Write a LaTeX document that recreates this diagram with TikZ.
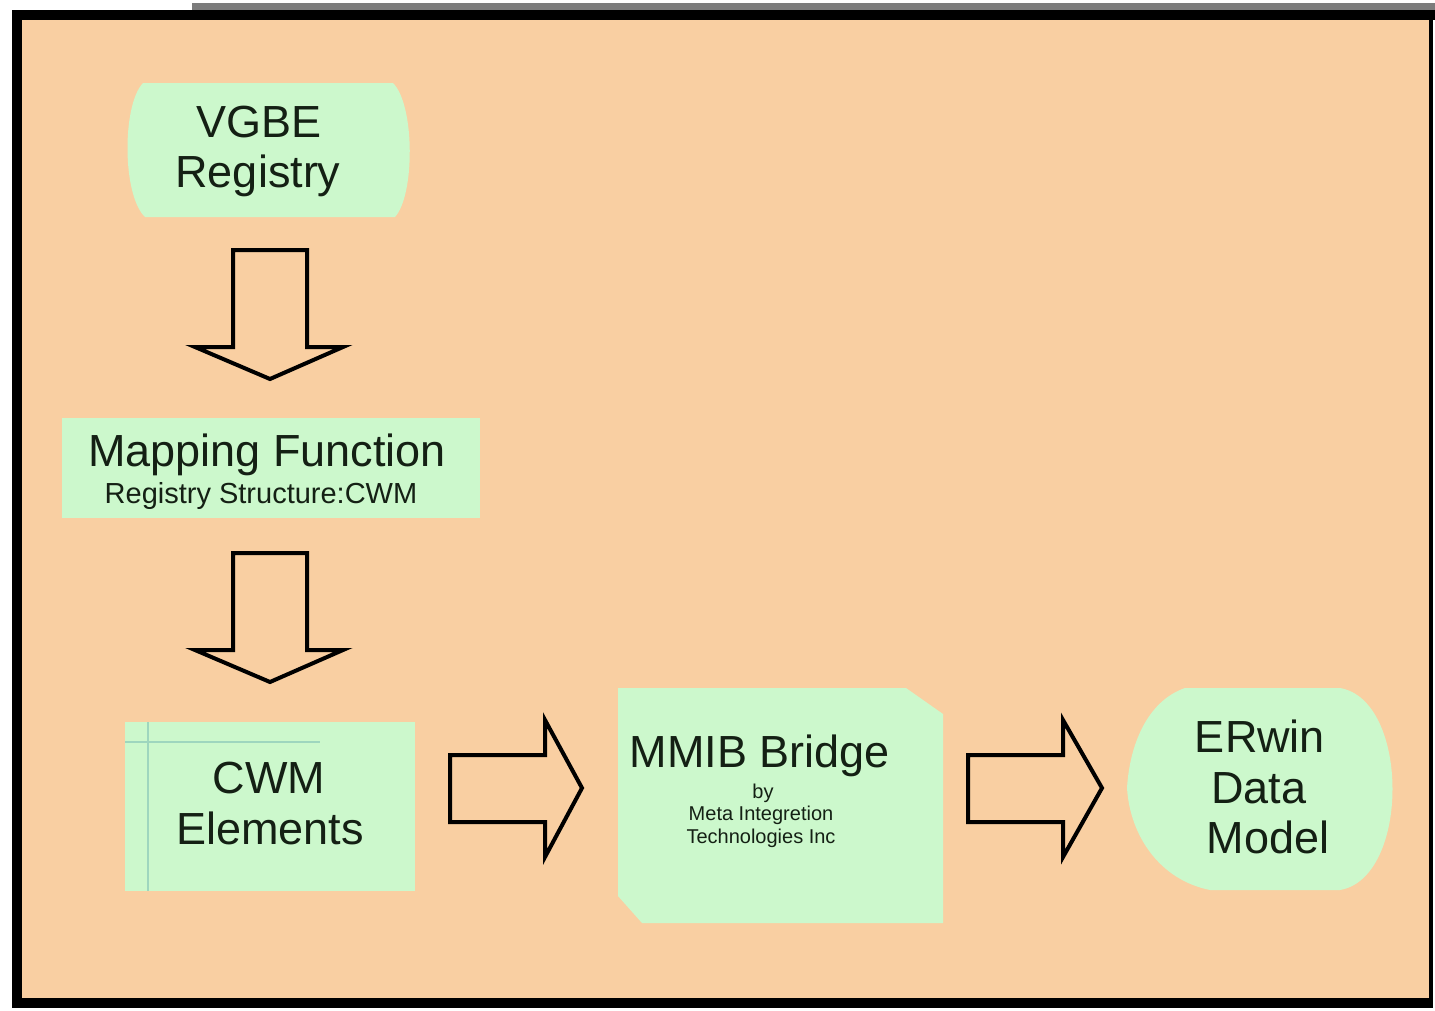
\documentclass[tikz,border=0pt]{standalone}
\usepackage{fontspec}
\setmainfont{Liberation Sans}
\definecolor{bgorange}{HTML}{F9CFA2}
\definecolor{boxgreen}{HTML}{CCF8CC}
\definecolor{txt}{HTML}{142014}
\definecolor{faintline}{HTML}{9ED6BE}
\definecolor{topgray}{HTML}{7C7C7C}
\begin{document}
\begin{tikzpicture}[x=1pt,y=-1pt,
  shapefill/.style={fill=boxgreen,draw=none},
  blockarrow/.style={draw=black,line width=4pt,line join=miter,fill=bgorange},
  bigtext/.style={anchor=base,text=txt,inner sep=0pt,font=\fontsize{45}{51}\selectfont},
  midtext/.style={anchor=base,text=txt,inner sep=0pt,font=\fontsize{29}{34}\selectfont},
  smalltext/.style={anchor=base,text=txt,inner sep=0pt,font=\fontsize{20}{22}\selectfont}]
\useasboundingbox (0,0) rectangle (1435,1010);
\fill[white] (0,0) rectangle (1435,1010);
% frame
\fill[topgray] (192,3) rectangle (1435,10);
\fill[bgorange] (17,17) rectangle (1431,1003);
\fill[black] (12,10) rectangle (1435,20);
\fill[black] (12,10) rectangle (22,1008);
\fill[black] (12,998) rectangle (1433,1008);
\fill[black] (1429,10) rectangle (1433,1008);
% VGBE Registry shape
\path[shapefill] (143,83) -- (393,83) .. controls (415,105) and (415,195) .. (395,217)
  -- (145,217) .. controls (122,195) and (122,105) .. (143,83) -- cycle;
% Mapping function box
\node[shapefill,rectangle,minimum width=418pt,minimum height=100pt,inner sep=0pt] (mapbox) at (271,468) {};
% CWM elements box
\node[shapefill,rectangle,minimum width=290pt,minimum height=169pt,inner sep=0pt] (cwmbox) at (270,806.5) {};
\draw[faintline,line width=1.2pt] (148,722) -- (148,891);
\draw[faintline,line width=1.2pt] (125,742) -- (320,742);
% MMIB bridge shape
\path[shapefill] (618,688) -- (906,688) -- (943,714) -- (943,923) -- (642,923) -- (618,896) -- cycle;
% ERwin shape
\path[shapefill] (1127,788) .. controls (1130,740) and (1150,700) .. (1185,688) -- (1340,688)
  .. controls (1410,700) and (1410,878) .. (1340,890) -- (1210,890)
  .. controls (1160,880) and (1130,836) .. (1127,788) -- cycle;
% texts
\node[bigtext] (vgbe) at (259,137) {VGBE};
\node[bigtext] (registry) at (258,187) {Registry};
\node[bigtext] (mapping) at (267,466) {Mapping Function};
\node[midtext] (regstruct) at (261,503) {Registry Structure:CWM};
\node[bigtext] (cwm) at (269,793) {CWM};
\node[bigtext] (elements) at (270,844) {Elements};
\node[bigtext] (mmib) at (760,767) {MMIB Bridge};
\node[smalltext] (by) at (763,798) {by};
\node[smalltext] (meta) at (761,820) {Meta Integretion};
\node[smalltext] (techinc) at (761,843) {Technologies Inc};
\node[bigtext] (erwin) at (1260,752) {ERwin};
\node[bigtext] (data) at (1259,803) {Data};
\node[bigtext] (model) at (1268,853) {Model};
% block arrows
\draw[blockarrow] (233,250) -- (307,250) -- (307,347) -- (343,347) -- (270,379) -- (195,347) -- (233,347) -- cycle;
\draw[blockarrow] (233,553) -- (307,553) -- (307,650) -- (343,650) -- (270,682) -- (195,650) -- (233,650) -- cycle;
\draw[blockarrow] (450,755) -- (545,755) -- (545,720) -- (582,788) -- (545,857) -- (545,822) -- (450,822) -- cycle;
\draw[blockarrow] (968,755) -- (1063,755) -- (1063,720) -- (1102,788) -- (1063,857) -- (1063,822) -- (968,822) -- cycle;
\end{tikzpicture}
\end{document}
